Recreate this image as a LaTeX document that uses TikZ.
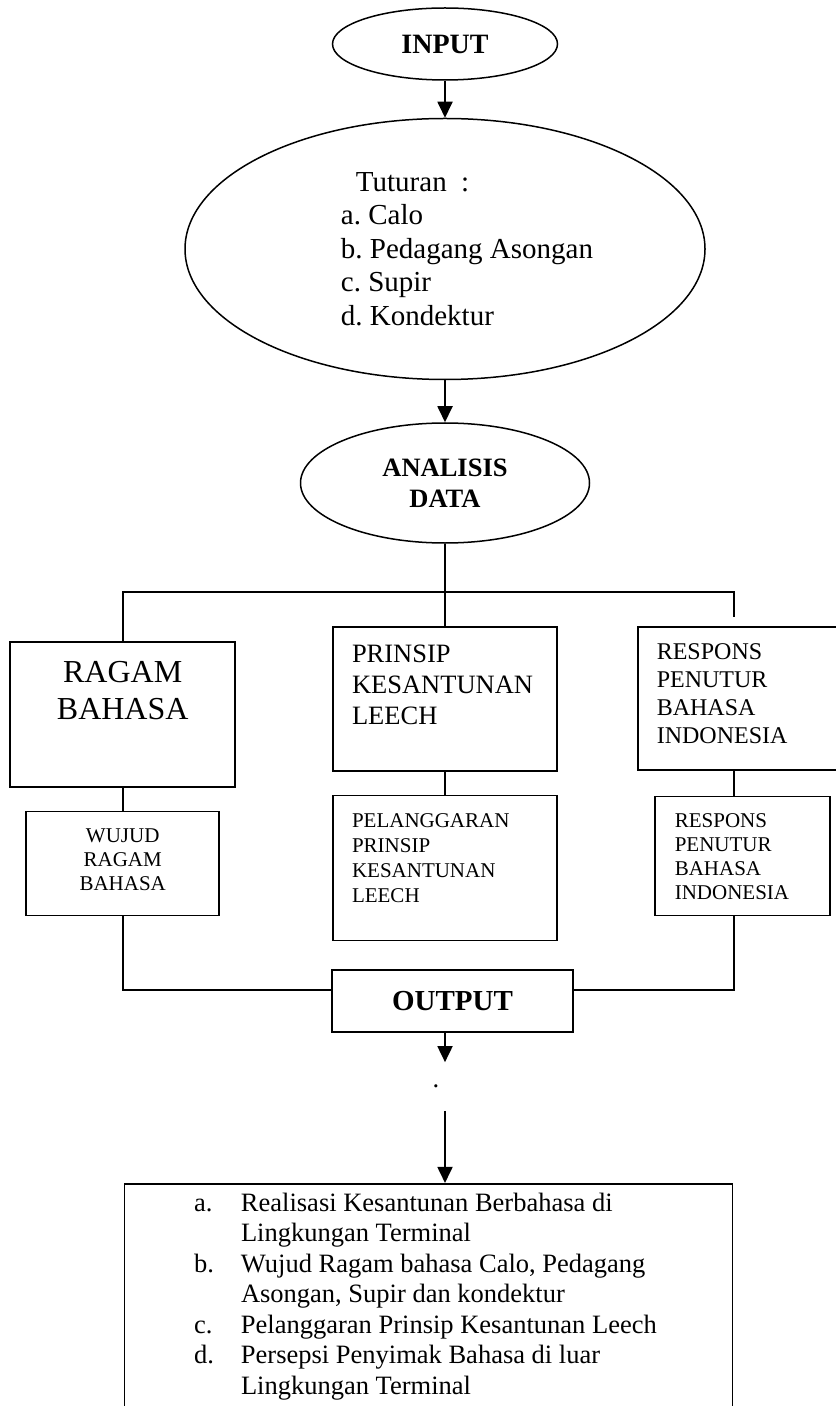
\documentclass[tikz,border=0pt]{standalone}
\usepackage{fontspec}
\setmainfont{Liberation Serif}
\usetikzlibrary{arrows.meta, shapes, positioning}

\newcommand{\boxtext}[4]{\begin{minipage}[c][#1][t]{#2}\vspace*{#3}#4\end{minipage}}

\begin{document}
\frenchspacing
\begin{tikzpicture}[
  oval/.style={draw, ellipse, line width=0.75pt, inner sep=0pt, align=center},
  box/.style={draw, rectangle, line width=0.9pt, inner sep=0pt},
  line/.style={line width=0.9pt},
  arrow/.style={->, >={Triangle[width=7.5pt,length=8pt]}, line width=0.9pt}
]
\useasboundingbox (0,0) rectangle (417.5pt,-703pt);

% Input dan analisis
\node[oval, minimum width=112.5pt, minimum height=36pt, font=\fontsize{14}{16}\selectfont\bfseries] (input) at (222.5pt,-22pt) {INPUT};

\node[oval, below=18.5pt of input, align=left, minimum width=260pt, minimum height=130.5pt, font=\fontsize{14.5}{16.75}\selectfont] (tuturan) {\hspace*{29.5pt}Tuturan\ \ :\\
\hspace*{22pt}a. Calo\\
\hspace*{22pt}b. Pedagang Asongan\\
\hspace*{22pt}c. Supir\\
\hspace*{22pt}d. Kondektur};

\node[oval, below=21pt of tuturan, minimum width=144.5pt, minimum height=60pt, font=\fontsize{13.25}{15.5}\selectfont\bfseries] (analisis) {ANALISIS\\DATA};

% Kotak tengah
\node[box, below=41pt of analisis] (prinsip) {\boxtext{72pt}{112pt}{9pt}{\raggedright\leftskip=9.5pt\relax
  \fontsize{13.25}{15.5}\selectfont PRINSIP\\KESANTUNAN\\LEECH}};

\node[box, below=11.5pt of prinsip] (pelanggaran) {\boxtext{72.5pt}{112pt}{9pt}{\raggedright\leftskip=9.5pt\relax
  \fontsize{10.5}{12.5}\selectfont PELANGGARAN\\PRINSIP\\KESANTUNAN\\LEECH}};

% Kotak kiri
\node[box, below left=7.5pt and 48pt of prinsip.north west] (ragam) {\boxtext{72.5pt}{112.5pt}{10pt}{\centering
  \fontsize{16}{18.5}\selectfont RAGAM\\BAHASA}};

\node[box, below=11.5pt of ragam] (wujud) {\boxtext{52pt}{96.5pt}{8.5pt}{\centering
  \fontsize{10.5}{12}\selectfont WUJUD\\RAGAM\\BAHASA}};

% Kotak kanan
\node[box, below right=0pt and 39.5pt of prinsip.north east] (respons) {\boxtext{71.5pt}{112pt}{8.5pt}{\raggedright\leftskip=9.5pt\relax
  \fontsize{12}{14}\selectfont RESPONS\\PENUTUR\\BAHASA\\INDONESIA}};

\node[box, below right=12.5pt and 8.5pt of respons.south west] (responsbawah) {\boxtext{59.5pt}{87.5pt}{8.5pt}{\raggedright\leftskip=10pt\relax
  \fontsize{10.5}{12}\selectfont RESPONS\\PENUTUR\\BAHASA\\INDONESIA}};

% Output
\node[box, below=14pt of pelanggaran, xshift=3.75pt, minimum width=120.5pt, minimum height=31pt, font=\fontsize{14.5}{16}\selectfont\bfseries] (output) {OUTPUT};

\node[below=14.5pt of output, xshift=-8.25pt, minimum height=24pt, inner sep=0pt, font=\fontsize{13.25}{15}\selectfont] (titik) {.};

\node[box, below=36pt of titik, xshift=-3.75pt] (hasil) {\boxtext{130pt}{304pt}{3.1pt}{\fontsize{13.25}{15.25}\selectfont
  \begin{tabular}{@{\hspace{34.75pt}}p{23.5pt}@{}l@{}}
    a. & Realisasi Kesantunan Berbahasa di\\
       & Lingkungan Terminal\\
    b. & Wujud Ragam bahasa Calo, Pedagang\\
       & Asongan, Supir dan kondektur\\
    c. & Pelanggaran Prinsip Kesantunan Leech\\
    d. & Persepsi Penyimak Bahasa di luar\\
       & Lingkungan Terminal\\
  \end{tabular}}};

% Titik bantu
\coordinate[below=24pt of analisis] (cabang);
\coordinate[above right=4.5pt and 48.5pt of respons.north west] (ujung);

% Panah dan garis
\draw[arrow] (input.south) -- (input.south |- tuturan.north);
\draw[arrow] (analisis.north |- tuturan.south) -- (analisis.north);
\draw[line] (analisis.south) -- (analisis.south |- prinsip.north);
\draw[line] (ragam.north) |- (cabang) -| (ujung);
\draw[line] (prinsip) -- (pelanggaran);
\draw[line] (ragam) -- (wujud);
\draw[line] (ujung |- respons.south) -- (ujung |- responsbawah.north);
\draw[line] (wujud.south) |- ([yshift=5.5pt]output.west);
\draw[line] ([yshift=5.5pt]output.east) -| (ujung |- responsbawah.south);
\draw[arrow] (output.south -| analisis) -- (titik.north -| analisis);
\draw[arrow] (titik.south -| analisis) -- (hasil.north -| analisis);

\end{tikzpicture}
\end{document}
